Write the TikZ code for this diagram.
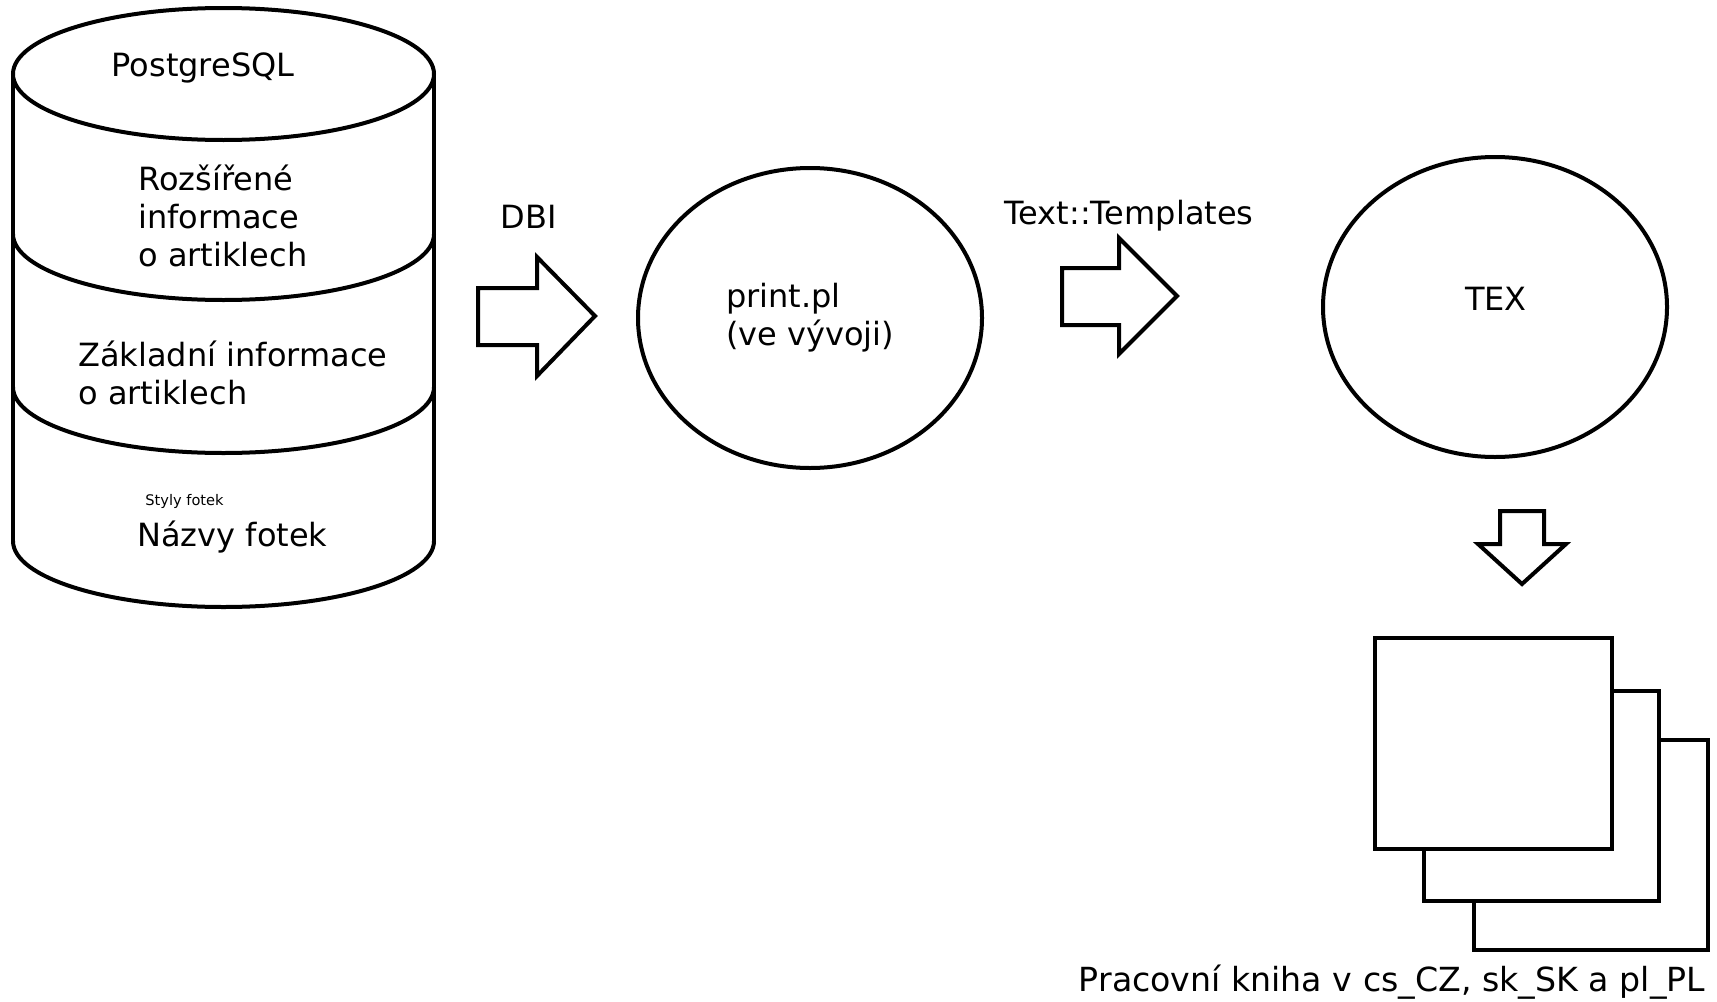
\documentclass[tikz,border=0pt]{standalone}
\usepackage{fontspec}
\setmainfont{DejaVu Sans}
\usetikzlibrary{shapes.geometric}
\tikzset{
  txt/.style={inner sep=0pt, font=\fontsize{16}{19}\selectfont},
  outline/.style={line width=2pt, line join=miter},
  bubble/.style={ellipse, draw, outline, inner sep=0pt, minimum width=172pt, minimum height=150pt, align=left, font=\fontsize{16}{19}\selectfont},
}
\begin{document}
\begin{tikzpicture}[x=0.5pt,y=-0.5pt]
\useasboundingbox (0,0) rectangle (1717,1001);
% database cylinder
\draw[outline] (13,74) -- (13,541);
\draw[outline] (434,74) -- (434,541);
\draw[outline] (223.5,74) ellipse [x radius=210.5, y radius=66];
\draw[outline] (13,234) arc [start angle=180, end angle=0, x radius=210.5, y radius=66];
\draw[outline] (13,387) arc [start angle=180, end angle=0, x radius=210.5, y radius=66];
\draw[outline] (13,541) arc [start angle=180, end angle=0, x radius=210.5, y radius=66];
\node[txt] (pg) at (203,68) {PostgreSQL};
\node[txt, align=left, anchor=west] (ext) at (138,216) {Rozšířené\\informace\\o artiklech};
\node[txt, align=left, anchor=west] (basic) at (78,373) {Základní informace\\o artiklech};
\node[inner sep=0pt, font=\fontsize{7.3}{9}\selectfont, anchor=west] (styles) at (145,501) {Styly fotek};
\node[txt, anchor=west] (names) at (137,537) {Názvy fotek};
% DBI
\node[txt] (dbi) at (529,217) {DBI};
\draw[outline] (478,288) -- (537,288) -- (537,257) -- (595,316) -- (537,376) -- (537,345) -- (478,345) -- cycle;
\node[bubble] (perl) at (810,318) {print.pl\\(ve vývoji)};
% templates
\node[txt] (tt) at (1129,216) {Text::Templates};
\draw[outline] (1062,268) -- (1119,268) -- (1119,238) -- (1177,296) -- (1119,354) -- (1119,325) -- (1062,325) -- cycle;
\node[bubble] (tex) at (1495,307) {};
\node[txt] (texname) at (1496,299) {TEX};
\draw[outline] (1500,511) -- (1544,511) -- (1544,544) -- (1566,544) -- (1522,584) -- (1478,544) -- (1500,544) -- cycle;
% output pages
\draw[outline, fill=white] (1474,740) rectangle (1708,950);
\draw[outline, fill=white] (1424,691) rectangle (1659,901);
\draw[outline, fill=white] (1375,638) rectangle (1612,849);
\node[txt, font=\fontsize{16.6}{19}\selectfont] (book) at (1392,982) {Pracovní kniha v cs\_CZ, sk\_SK a pl\_PL};
\end{tikzpicture}
\end{document}
